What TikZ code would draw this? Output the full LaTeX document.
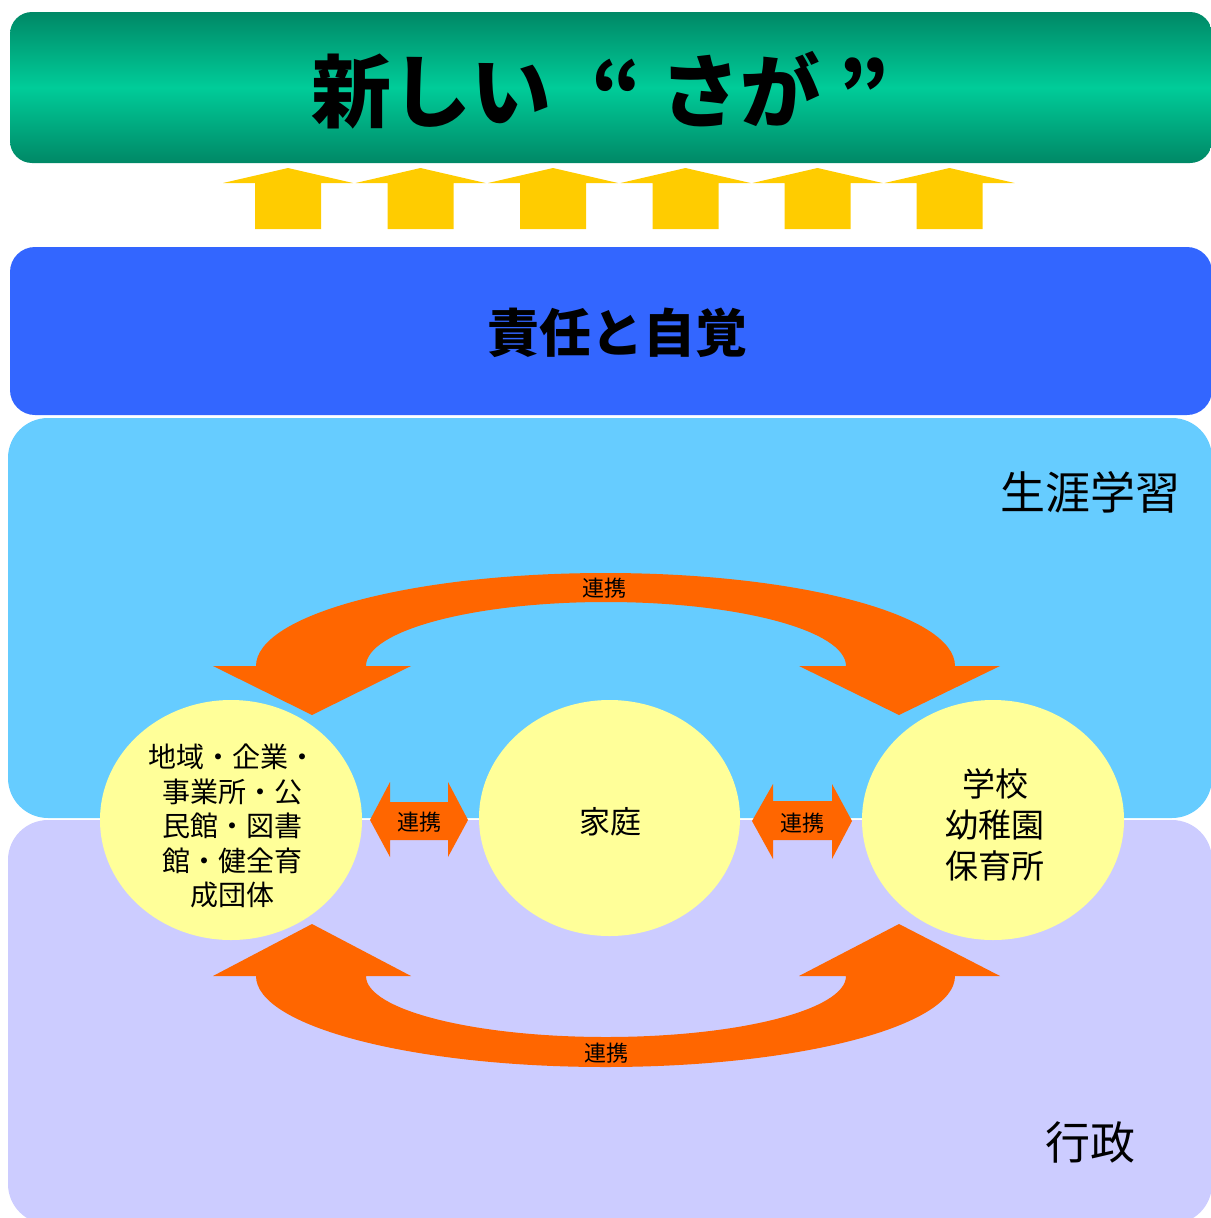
\documentclass[tikz,border=0pt]{standalone}
\usepackage{fontspec}
\newfontfamily\jp{Noto Sans CJK JP}
\usetikzlibrary{shapes.geometric}
\definecolor{grDark}{HTML}{008866}
\definecolor{grLight}{HTML}{00CC99}
\definecolor{arrY}{HTML}{FFCC00}
\definecolor{boxBlue}{HTML}{3366FF}
\definecolor{boxSky}{HTML}{66CCFF}
\definecolor{boxLav}{HTML}{CCCCFF}
\definecolor{ellY}{HTML}{FFFF99}
\definecolor{orng}{HTML}{FF6600}
\tikzset{
  bubble/.style={ellipse, fill=ellY, minimum width=262pt, minimum height=240pt, inner sep=0pt},
  bigtext/.style={font=\jp\fontsize{45}{50}\selectfont, inner sep=0pt},
  smalltag/.style={font=\jp\fontsize{22}{24}\selectfont, inner sep=0pt},
  yarrow/.style={fill=arrY},
  oarrow/.style={fill=orng}
}
\begin{document}
\begin{tikzpicture}[x=1pt,y=-1pt]
\useasboundingbox (0,0) rectangle (1210,1218);
% green title band
\shade[top color=grDark, bottom color=grDark, middle color=grLight, rounded corners=22pt] (10,12) rectangle (1212,163);
\node[font=\jp\bfseries\fontsize{80}{80}\selectfont, inner sep=0pt] (title) at (600,90) {新しい\hspace{40pt}“ さが ”};
% yellow arrows
\foreach \c in {288,420.5,553,685.5,817.5,949.5}{
  \fill[yarrow] (\c,168) -- (\c+65,183) -- (\c+33,183) -- (\c+33,229) -- (\c-33,229) -- (\c-33,183) -- (\c-65,183) -- cycle;
}
% blue band
\fill[boxBlue, rounded corners=25pt] (10,247) rectangle (1212,415);
\node[font=\jp\bfseries\fontsize{52}{56}\selectfont, inner sep=0pt] (resp) at (617,333) {責任と自覚};
% sky and lavender bands
\fill[boxSky, rounded corners=40pt] (8,418) rectangle (1212,818);
\fill[boxLav, rounded corners=40pt] (8,820) rectangle (1212,1224);
\node[bigtext] (life) at (1090,492) {生涯学習};
\node[bigtext] (gov) at (1090,1142) {行政};
% ellipses
\node[bubble] (L) at (231,820) {};
\node[bubble, minimum width=261pt, minimum height=236pt] (M) at (609.5,818) {};
\node[bubble] (R) at (993,820) {};
\node[font=\jp\fontsize{28}{34.5}\selectfont, align=center, inner sep=0pt] (Ltext) at (232,826) {地域・企業・\\事業所・公\\民館・図書\\館・健全育\\成団体};
\node[font=\jp\fontsize{31}{34}\selectfont, inner sep=0pt] (Mtext) at (610,822) {家庭};
\node[font=\jp\fontsize{33}{41}\selectfont, align=center, inner sep=0pt] (Rtext) at (995,825) {学校\\幼稚園\\保育所};
% double arrows
\fill[oarrow] (370,820) -- (390,782) -- (390,802) -- (448,802) -- (448,782) -- (468,820) -- (448,857) -- (448,840) -- (390,840) -- (390,857) -- cycle;
\node[smalltag] (lk1) at (419,822) {連携};
\fill[oarrow] (752,821) -- (773,784) -- (773,801) -- (832,801) -- (832,784) -- (852,821) -- (832,859) -- (832,840) -- (773,840) -- (773,859) -- cycle;
\node[smalltag] (lk2) at (802,823) {連携};
% top arc arrow
\fill[oarrow] (312,715) -- (411,666) -- (366,666)
  .. controls (366,630.65) and (473.4,602) .. (606,602)
  .. controls (738.6,602) and (846,630.65) .. (846,666)
  -- (799,666) -- (899,715) -- (1000,666) -- (955,666)
  .. controls (955,614.64) and (798.5,573) .. (605.5,573)
  .. controls (412.5,573) and (256,614.64) .. (256,666)
  -- (213,666) -- cycle;
\node[smalltag] (lk3) at (604,588) {連携};
% bottom arc arrow
\fill[oarrow] (312,924) -- (411,976) -- (366,976)
  .. controls (366,1009.69) and (473.4,1037) .. (606,1037)
  .. controls (738.6,1037) and (846,1009.69) .. (846,976)
  -- (799,976) -- (899,924) -- (1000,976) -- (955,976)
  .. controls (955,1026.26) and (798.5,1067) .. (605.5,1067)
  .. controls (412.5,1067) and (256,1026.26) .. (256,976)
  -- (213,976) -- cycle;
\node[smalltag] (lk4) at (606,1053) {連携};
\end{tikzpicture}
\end{document}
